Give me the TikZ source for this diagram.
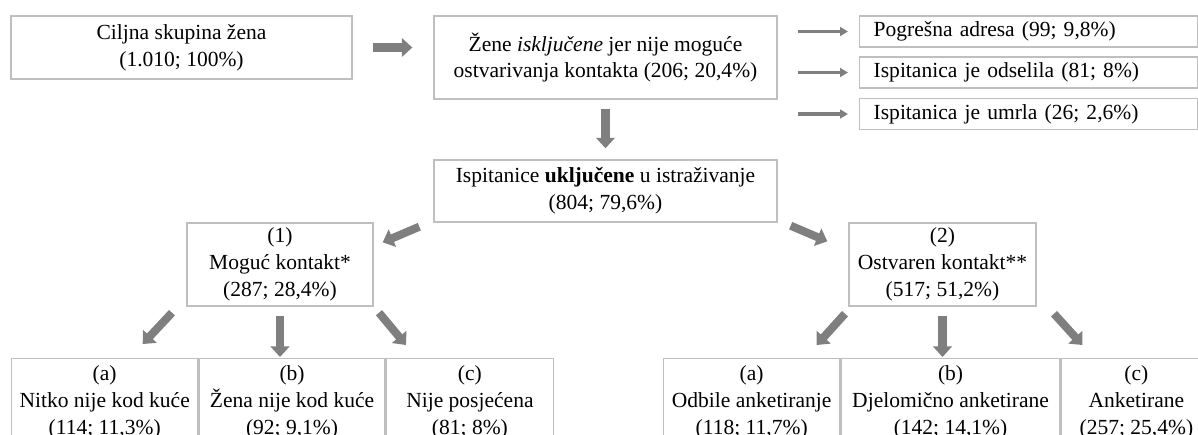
\documentclass[tikz,border=0pt]{standalone}
\usepackage{fontspec}
\setmainfont{Liberation Serif}
\usetikzlibrary{positioning}
\usetikzlibrary{arrows.meta}
\definecolor{boxgray}{RGB}{191,191,191}
\definecolor{arrowgray}{RGB}{127,127,127}

\begin{document}
\begin{tikzpicture}[x=0.02cm,y=-0.02cm,
    box/.style={draw=boxgray,line width=0.8pt,align=center,inner sep=0pt,font=\fontsize{12.25pt}{15.3pt}\selectfont},
    sidebox/.style={box,anchor=west,align=left,text width=6.2cm,inner xsep=0.28cm,minimum height=0.62cm},
    rowbox/.style={box,minimum height=1.74cm},
    bigarrow/.style={draw=arrowgray,line width=4.6pt,-{Triangle[width=10.5pt,length=6pt]}},
    thinarrow/.style={draw=arrowgray,line width=2.2pt,-{Triangle[width=5pt,length=4.5pt]}}]
    \useasboundingbox (0,0) rectangle (1198,434);
    \clip (0,0) rectangle (1198,434);

    \node[box,minimum width=6.82cm,minimum height=1.26cm] (zena) at (181.5,47.5) {Ciljna skupina žena\\(1.010; 100\%)};
    \node[box,minimum width=6.86cm,minimum height=1.66cm] (iskljucene) at (605.5,57.5) {Žene \textit{isključene} jer nije moguće\\ostvarivanja kontakta (206; 20,4\%)};
    \node[sidebox] (pogresna) at (859,31.5) {Pogrešna adresa (99; 9,8\%)};
    \node[sidebox] (odselila) at (859,72.5) {Ispitanica je odselila (81; 8\%)};
    \node[sidebox] (umrla) at (859,114) {Ispitanica je umrla (26; 2,6\%)};
    \node[box,minimum width=6.86cm,minimum height=1.24cm] (ukljucene) at (605.5,191) {Ispitanice \textbf{uključene} u istraživanje\\(804; 79,6\%)};
    \node[box,minimum width=3.72cm,minimum height=1.66cm] (moguc) at (280,264.5) {(1)\\Moguć kontakt*\\(287; 28,4\%)};
    \node[box,minimum width=3.74cm,minimum height=1.66cm] (ostvaren) at (942.5,264.5) {(2)\\Ostvaren kontakt**\\(517; 51,2\%)};

    \node[rowbox,minimum width=3.72cm,anchor=north west] (nitko) at (11,358) {(a)\\Nitko nije kod kuće\\(114; 11,3\%)};
    \node[rowbox,minimum width=3.72cm] (zenaned) [right=0pt of nitko] {(b)\\Žena nije kod kuće\\(92; 9,1\%)};
    \node[rowbox,minimum width=3.34cm] (neposjecena) [right=0pt of zenaned] {(c)\\Nije posjećena\\(81; 8\%)};
    \node[rowbox,minimum width=3.52cm,anchor=north west] (odbile) at (663,358) {(a)\\Odbile anketiranje\\(118; 11,7\%)};
    \node[rowbox,minimum width=4.38cm] (djelomicno) [right=0pt of odbile] {(b)\\Djelomično anketirane\\(142; 14,1\%)};
    \node[rowbox,minimum width=3.0cm] (anketirane) [right=0pt of djelomicno] {(c)\\Anketirane\\(257; 25,4\%)};

    \draw[bigarrow,shorten <=0.4cm,shorten >=0.42cm] (zena.east) -- (zena.east -| iskljucene.west);
    \draw[thinarrow,shorten <=0.4cm,shorten >=0.22cm] (iskljucene.east |- pogresna.west) -- (pogresna.west);
    \draw[thinarrow,shorten <=0.4cm,shorten >=0.22cm] (iskljucene.east |- odselila.west) -- (odselila.west);
    \draw[thinarrow,shorten <=0.4cm,shorten >=0.22cm] (iskljucene.east |- umrla.west) -- (umrla.west);
    \draw[bigarrow,shorten <=0.18cm,shorten >=0.22cm] (iskljucene) -- (ukljucene);
    \draw[bigarrow] ([shift={(-14,4)}]ukljucene.south west) -- ([shift={(9,20)}]moguc.north east);
    \draw[bigarrow] ([shift={(13,3)}]ukljucene.south east) -- ([shift={(-21,19)}]ostvaren.north west);

    \draw[bigarrow] ([shift={(-108,6)}]moguc.south) -- ([shift={(38,-14)}]nitko.north);
    \draw[bigarrow,shorten <=0.18cm,shorten >=0.02cm] (moguc.south) -- (moguc.south |- zenaned.north);
    \draw[bigarrow] ([shift={(99,6)}]moguc.south) -- ([shift={(-64,-13)}]neposjecena.north);
    \draw[bigarrow] ([shift={(-97.5,7)}]ostvaren.south) -- ([shift={(65,-13)}]odbile.north);
    \draw[bigarrow,shorten <=0.18cm,shorten >=0.02cm] (ostvaren.south) -- (ostvaren.south |- djelomicno.north);
    \draw[bigarrow] ([shift={(111.5,7)}]ostvaren.south) -- ([shift={(-54,-13)}]anketirane.north);
\end{tikzpicture}
\end{document}
